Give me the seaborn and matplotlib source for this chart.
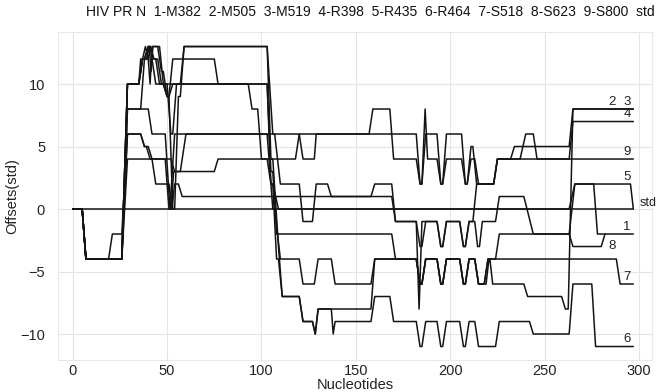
import numpy as np
import pandas as pd
import matplotlib
matplotlib.use("Agg")
import matplotlib.pyplot as plt
import seaborn as sns

# ---- data: plateaus (x_start, x_end, offset) per sequence ----
series_names = ["1", "2", "3", "4", "5", "6", "7", "8", "9", "std"]

s1 = [(0, 5, 0), (7, 26, -4), (29, 42, 4), (44, 51, 2), (52.5, 52.5, 0), (54, 56, 2),
      (58, 169, 1), (171, 182, -1), (184, 185, -3), (187, 193, -1), (195, 196, -3),
      (198, 205, -1), (207, 208, -3), (210, 213, -1), (214.5, 215.5, -3), (217, 224, -1),
      (226, 239, 1), (244, 263, -2), (266, 276, 2), (278, 297, -2)]
s2 = [(0, 5, 0), (7, 26, -4), (29, 35, 10), (37, 39, 12), (40.5, 40.5, 13), (41.5, 41.5, 11),
      (42.5, 46, 13), (48, 50, 10), (52, 53, 6), (55, 57, 10), (59, 103, 13), (106, 107, 6),
      (110, 120, 2), (122, 127, -1), (129, 135, 2), (137, 158, 1), (160, 169, 2),
      (171, 182, -1), (183.5, 183.5, -8), (185, 193, -1), (195, 196, -3), (198, 205, -1),
      (207, 208, -3), (210, 212, -1), (214, 223, 2), (225, 232, 4), (234, 263, 5), (265, 297, 8)]
s3 = [(0, 5, 0), (7, 26, -4), (29, 36, 8), (38, 40, 12), (41, 41, 10), (42, 45, 13),
      (47, 48, 11), (50, 51, 9), (53, 54, 0), (56, 57, 9), (59, 103, 13), (105, 106, 4),
      (109, 109, -3), (111, 120, -7), (122, 127, -9), (128.5, 128.5, -10), (130, 158, -8),
      (160, 182, -4), (184, 185, -6), (187, 193, -4), (195, 196, -6), (198, 205, -4),
      (207, 208, -6), (210, 213, -4), (215, 219, -6), (220.5, 221, -4), (222.5, 239, -6),
      (241, 259, -7), (261, 262.5, -8), (265, 297, 8)]
s4 = [(0, 5, 0), (7, 26, -4), (29, 35, 10), (37, 38, 12), (40, 41, 13), (42, 42, 12),
      (44, 49, 10), (50, 93, 10), (95, 98, 8), (100, 118, 4), (120, 157, 6), (159, 168, 8),
      (170, 182, 4), (184, 185, 2), (186.7, 186.7, 8), (188, 193, 4), (195, 196, 2),
      (198, 206, 4), (208, 209, 2), (211, 213, 4), (215, 223, 2), (225, 263, 4), (265, 297, 7)]
s5 = [(0, 5, 0), (7, 19, -4), (21, 26, -2), (29, 36, 6), (38, 40, 5), (42, 49, 4),
      (51, 52, 0), (53.5, 75, 3), (77, 103, 4), (105, 106, 2), (109, 263, 0),
      (266, 295.5, 2), (297, 297, 0)]
s6 = [(0, 5, 0), (7, 26, -4), (29, 35, 10), (36, 37, 12), (38.5, 38.5, 13), (40, 40, 12),
      (41, 41, 13), (43, 45, 12), (47, 48, 10), (50, 51, 9), (53, 57, 12), (58, 75, 12),
      (77, 103, 10), (105, 106, 2), (108, 109, -4), (111, 120, -7), (122, 127, -9),
      (128.5, 128.5, -10), (130, 137, -8), (138, 138, -10), (139, 158, -9), (160, 168, -7),
      (170, 182, -9), (184, 185, -11), (187, 193, -9), (195, 196, -11), (198, 205, -9),
      (207, 208, -11), (210, 213, -9), (215, 224, -11), (226, 242, -9), (244, 263, -10),
      (265, 275, -6), (277, 297, -11)]
s7 = [(0, 5, 0), (7, 26, -4), (29, 40, 8), (42, 44, 6), (46, 49, 6), (51.5, 51.5, 0),
      (54, 57, 6), (60, 103, 6), (106, 107, 0), (110, 120, -4), (122, 128, -6),
      (130, 137, -4), (139, 158, -6), (160, 182, -4), (184, 185, -6), (187, 193, -4),
      (195, 196, -6), (198, 205, -4), (207, 208, -6), (210, 213, -4), (215, 218, -6),
      (220, 288, -4), (290, 297, -6)]
s8 = [(0, 5, 0), (7, 26, -4), (29, 35, 10), (37, 38, 12), (40, 41, 13), (43, 44, 12),
      (46, 48, 10), (50, 51, 9), (53, 103, 10), (105, 106, 3), (108, 108, -2), (110, 169, -2),
      (171, 182, -4), (184, 185, -6), (187, 193, -4), (195, 196, -6), (198, 205, -4),
      (207, 208, -6), (210, 213, -4), (215, 218, -6), (220, 224, -4), (226, 263, -2),
      (265, 280, -3), (282, 282, -2)]
s9 = [(0, 5, 0), (7, 26, -4), (29, 36, 6), (38, 39, 5), (41, 47, 4), (49, 52, 4),
      (54, 57, 3), (60, 120, 6), (122, 128, 4), (129, 182, 6), (184, 185, 2), (187, 193, 6),
      (195, 196, 2), (198, 206, 6), (208, 209, 2), (211, 212, 5), (214, 223, 2),
      (225, 237, 4), (240, 244, 6), (246, 297, 4)]
std = [(1, 297, 0)]

header = ("HIV PR N  1-M382  2-M505  3-M519  4-R398  5-R435  "
          "6-R464  7-S518  8-S623  9-S800  std")
x_ticks = [0, 50, 100, 150, 200, 250, 300]
y_ticks = [-10, -5, 0, 5, 10]

# ---- build long table of line vertices ----
all_series = [s1, s2, s3, s4, s5, s6, s7, s8, s9, std]
rows = []
for name, plats in zip(series_names, all_series):
    order = 0
    for a, b, lev in plats:
        rows.append((name, order, a, lev)); order += 1
        if b != a:
            rows.append((name, order, b, lev)); order += 1
df = pd.DataFrame(rows, columns=["series", "order", "x", "y"])

sns.set_theme(style="whitegrid")
plt.rcParams["font.family"] = ["Liberation Sans", "DejaVu Sans"]

fig = plt.figure(figsize=(6.57, 3.92), dpi=100)
ax = fig.add_axes([0.0877, 0.0816, 0.905, 0.8367])
sns.lineplot(data=df, x="x", y="y", units="series", estimator=None, sort=False,
             color="#141414", lw=1.1, ax=ax, legend=False)

ax.set_xlim(-8, 307)
ax.set_ylim(-12.08, 14.16)
ax.set_xticks(x_ticks)
ax.set_yticks(y_ticks)
ax.grid(True, color="#e4e4e4", lw=0.8)
for sp in ax.spines.values():
    sp.set_color("#e8e8e8")
    sp.set_linewidth(0.8)
ax.tick_params(axis="x", length=0, pad=3, labelsize=10.5, colors="#222222")
ax.tick_params(axis="y", length=0, pad=9, labelsize=10.5, colors="#222222")
ax.set_xlabel("Nucleotides", fontsize=10.5, color="#222222", labelpad=0)
ax.set_ylabel("Offsets(std)", fontsize=10.5, color="#222222", labelpad=1)

# end labels derived from each series' final level
def level_at(plats, x):
    xs, ys = [], []
    for a, b, lev in plats:
        xs += [a, b]; ys += [lev, lev]
    return float(np.interp(x, xs, ys))

label_x = 293.6
for name, plats in zip(series_names[:-1], all_series[:-1]):
    lev = level_at(plats, 294)
    if name == "2":
        ax.text(285.6, lev + 0.58, name, ha="center", va="center", fontsize=9.5, color="#222222")
    elif name == "8":
        ax.text(285.6, lev - 0.94, name, ha="center", va="center", fontsize=9.5, color="#222222")
    else:
        ax.text(label_x, lev + 0.58, name, ha="center", va="center", fontsize=9.5, color="#222222")
ax.text(300.3, level_at(std, 294) + 0.5, "std", ha="left", va="center", fontsize=9,
        color="#222222", clip_on=False)

fig.text(86 / 657, 1 - 12 / 392, header, ha="left", va="center", fontsize=10, color="#111111")

fig.savefig("out.png", dpi=100)
